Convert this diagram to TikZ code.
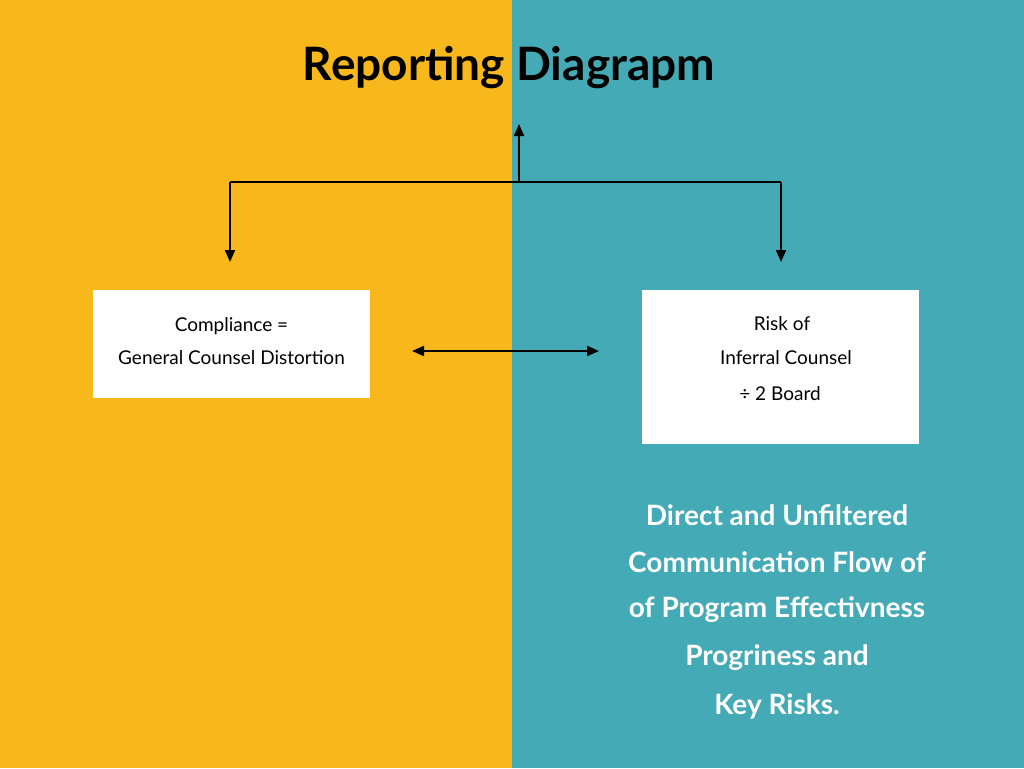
\documentclass[tikz,border=0pt]{standalone}
\usepackage{fontspec}
\setmainfont{Lato}
\usetikzlibrary{arrows.meta}
\definecolor{yel}{HTML}{F8B81C}
\definecolor{teal}{HTML}{44ABB6}
\begin{document}
\begin{tikzpicture}[x=1pt,y=-1pt,
  box/.style={fill=white,draw=none,inner sep=0},
  arr/.style={line width=2pt,-{Triangle[length=12pt,width=10pt]}},
  btxt/.style={font=\fontsize{19}{22}\selectfont,text=black},
  wtxt/.style={font=\bfseries\fontsize{28}{32}\selectfont,text=white}]
\useasboundingbox (0,0) rectangle (1024,768);
\fill[yel] (0,0) rectangle (512,768);
\fill[teal] (512,0) rectangle (1024,768);
\node[font=\bfseries\fontsize{46}{50}\selectfont] (title) at (509,68) {Reporting Diagrapm};
\node[box,minimum width=277pt,minimum height=108pt] (L) at (231.5,344) {};
\node[box,minimum width=277pt,minimum height=154pt] (R) at (780.5,367) {};
\node[btxt] (l1) at (231.5,326) {Compliance =};
\node[btxt] (l2) at (231.5,358) {General Counsel Distortion};
\node[btxt] (r1) at (782,324) {Risk of};
\node[btxt] (r2) at (786,358) {Inferral Counsel};
\node[btxt] (r3) at (780,394) {÷ 2 Board};
\coordinate (j) at (519,182);
\coordinate (up) at (519,124);
\coordinate (jl) at (230,182);
\coordinate (jr) at (781,182);
\coordinate (dl) at (230,262);
\coordinate (dr) at (781,262);
\draw[arr] (j) -- (up);
\draw[line width=2pt] (jl) -- (jr);
\draw[arr] (jl) -- (dl);
\draw[arr] (jr) -- (dr);
\coordinate (a1) at (412,351);
\coordinate (a2) at (599,351);
\draw[line width=2pt,{Triangle[length=12pt,width=10pt]}-{Triangle[length=12pt,width=10pt]}] (a1) -- (a2);
\node[wtxt] (t1) at (777,515) {Direct and Unfiltered};
\node[wtxt] (t2) at (777,562) {Communication Flow of};
\node[wtxt] (t3) at (777,610) {of Program Effectivness};
\node[wtxt] (t4) at (777,658) {Progriness and};
\node[wtxt] (t5) at (777,706) {Key Risks.};
\end{tikzpicture}
\end{document}
